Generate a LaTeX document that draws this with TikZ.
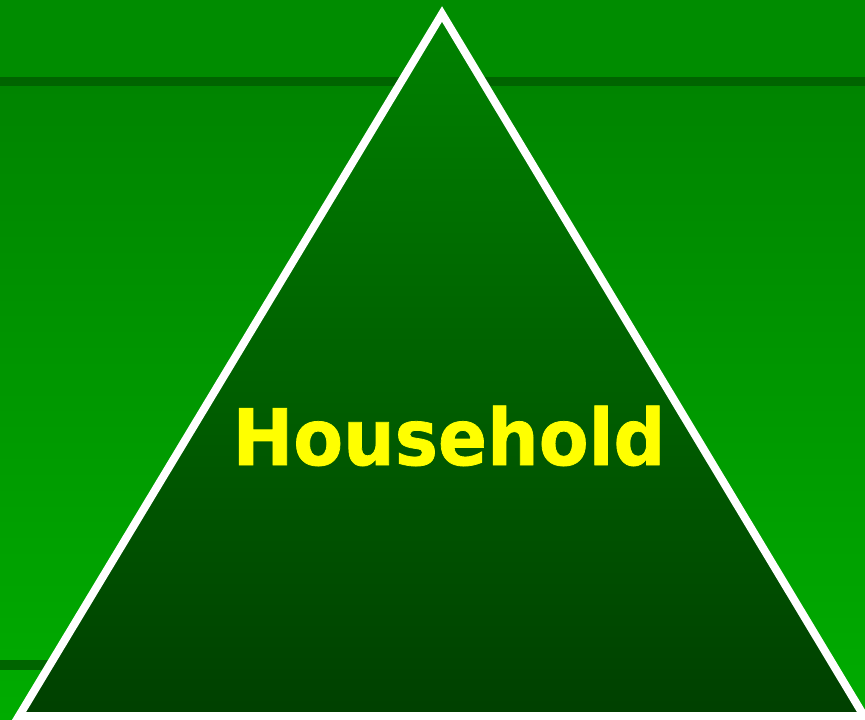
\documentclass[tikz,border=0pt]{standalone}
\usepackage{fontspec}
\newfontfamily\labelfont[FakeBold=1]{DejaVu Sans}
\usepackage{tikz}
\definecolor{bandgreen}{RGB}{0,140,0}
\definecolor{linegreen}{RGB}{0,100,0}
\definecolor{bgtop}{RGB}{0,132,0}
\definecolor{bgbottom}{RGB}{0,172,0}
\definecolor{tritop}{RGB}{0,130,0}
\definecolor{tribottom}{RGB}{0,64,0}
\definecolor{labelyellow}{RGB}{255,255,0}
\tikzset{
  tri/.style={draw=white, line width=8pt, line join=miter,
    top color=tritop, bottom color=tribottom},
  title/.style={text=labelyellow, anchor=base, inner sep=0pt,
    font=\labelfont\bfseries\fontsize{78}{78}\selectfont,
    xscale=0.93, transform shape}
}
\begin{document}
\begin{tikzpicture}[x=1pt, y=-1pt]
  \useasboundingbox (0,0) rectangle (865,720);
  \fill[top color=bgtop, bottom color=bgbottom] (0,86) rectangle (865,720);
  \fill[bandgreen] (0,0) rectangle (865,77);
  \fill[linegreen] (0,77) rectangle (865,86);
  \fill[linegreen] (0,660) rectangle (120,670);
  \coordinate (apex) at (442,14);
  \coordinate (left) at (19,716);
  \coordinate (right) at (864,716);
  \path[tri] (apex) -- (left) -- (right) -- cycle;
  \node[title] (household) at (449,465) {Household};
\end{tikzpicture}
\end{document}
